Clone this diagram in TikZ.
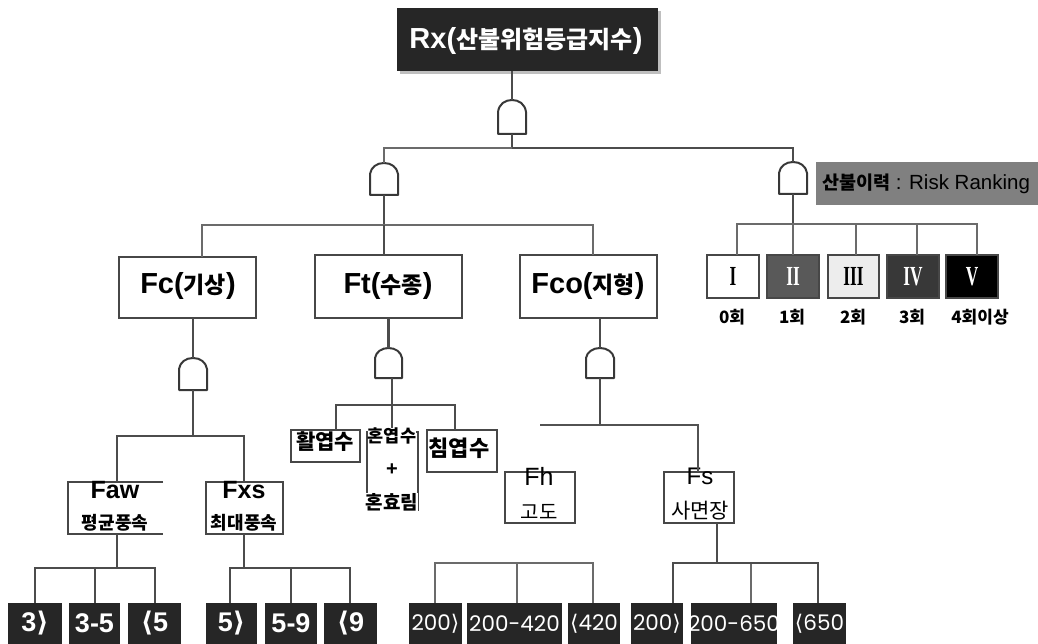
\documentclass[tikz,border=0pt]{standalone}
\usepackage{fontspec}
\usepackage{graphicx}
\setmainfont{Liberation Sans}
\newfontfamily\kr{Noto Sans CJK KR}
\newfontfamily\srf{Liberation Serif}
\newfontfamily\pop{Poppins}
\newfontfamily\dvfont{DejaVu Sans}
\usetikzlibrary{shadows,calc}
\newcommand{\fs}[1]{\fontsize{#1}{#1}\selectfont}
\newcommand{\bx}[7][]{\node[#2,#1,minimum width={#5-#3},minimum height={#6-#4}] (#7) at ({(#3+#5)/2},{(#4+#6)/2}) {};}
\newcommand{\gate}[5]{% name, left, right, top, bottom
  \node[gatebox,minimum width={#3-#2},minimum height={#5-#4}] (#1) at ({(#2+#3)/2},{(#4+#5)/2}) {};
  \draw[gateline] (#1.south west) -- ($(#1.west)+(0,-5)$) .. controls ($(#1.north west)+(1,4)$) and ($(#1.north)+(-7,0)$) .. (#1.north)
     .. controls ($(#1.north)+(7,0)$) and ($(#1.north east)+(-1,4)$) .. ($(#1.east)+(0,-5)$) -- (#1.south east) -- cycle;}
\newcommand{\lbk}{{\dvfont ⟨}}
\newcommand{\rbk}{{\dvfont ⟩}}
\newcommand{\romn}[1]{\scalebox{.72}[1.15]{#1}}
\tikzset{
  base/.style={inner sep=0pt,outer sep=0pt},
  gatebox/.style={base},
  gateline/.style={draw=black!78,line width=2pt,line join=round},
  conn/.style={draw=black!70,line width=2.2pt},
  thin conn/.style={draw=black!58,line width=1.8pt},
  plain/.style={base,draw=black!72,line width=1.8pt,fill=white},
  group/.style={base,draw=black!72,line width=2.4pt,fill=white},
  dark/.style={base,fill=black!85},
  ttl/.style={base,font=\fs{29}\bfseries},
  leafB/.style={base,text=white,font=\fs{27}\bfseries},
  leafP/.style={base,text=white,font=\pop\fs{21.5}},
  rom/.style={base,font=\srf\fs{24}\bfseries},
  cnt/.style={base,font=\kr\fs{17}\bfseries},
  sub/.style={base,font=\kr\fs{18}\bfseries},
  hd/.style={base,font=\fs{25}\bfseries},
}
\begin{document}
\begin{tikzpicture}[x=1pt,y=-1pt]
\useasboundingbox (0,0) rectangle (1038,644);

% top box
\bx[drop shadow={shadow xshift=3pt,shadow yshift=-3pt,fill=black!50}]{dark}{397}{8}{658}{71}{rx}
\node[base,text=white,font=\fs{29}\bfseries] (rxt) at (526,41) {Rx({\kr\fs{24}산불위험등급지수})};

% gates
\gate{g0}{498}{526}{100}{134}
\gate{g1}{370}{398}{163}{195}
\gate{g2}{779}{807}{162}{194}
\gate{gc}{179}{207}{358}{390}
\gate{gt}{375}{402}{348}{378}
\gate{gf}{586}{614}{348}{378}

% junctions
\coordinate (j0) at (512,148);
\coordinate (j1) at (384,225);
\coordinate (j2) at (793,224);
\coordinate (jc) at (193,436);
\coordinate (jt) at (392,405);
\coordinate (jf) at (600,425);
\coordinate (jfe) at (540,425);
\coordinate (jaw) at (117,568);
\coordinate (jxs) at (244,568);
\coordinate (jh) at (517,563);
\coordinate (js) at (717,563);

% boxes of the second row
\bx{group}{119}{257}{256}{318}{fc}
\bx{group}{315}{255}{462}{318}{ft}
\bx{group}{520}{255}{657}{318}{fco}
\node[ttl] (fct) at (188,286) {Fc({\kr\fs{23}기상})};
\node[ttl] (ftt) at (388,286) {Ft({\kr\fs{23}수종})};
\node[ttl] (fcot) at (588,286) {Fco({\kr\fs{23}지형})};

% tree species
\bx{plain}{291}{430}{360}{462}{hw}
\bx{plain}{367}{432}{418}{510}{mx}
\bx{plain}{427}{430}{497}{472}{cf}
\node[base,font=\kr\fs{21}\bfseries] (hwt) at (325,442) {활엽수};
\node[base,fill=white,font=\kr\fs{17.5}\bfseries] (mxa) at (392,436) {혼엽수};
\node[base,font=\fs{20}\bfseries] (mxb) at (392,470) {+};
\node[base,fill=white,font=\kr\fs{19}\bfseries] (mxc) at (392,502) {혼효림};
\node[base,font=\kr\fs{22}\bfseries] (cft) at (459,448) {침엽수};

% wind and terrain boxes
\node[base,minimum width=95,minimum height=52] (faw) at (115.5,508) {};
\draw[plain,fill=none] (faw.north east) -- (faw.north west) -- (faw.south west) -- (faw.south east);
\bx{plain}{206}{482}{283}{534}{fxs}
\bx{plain}{505}{472}{575}{523}{fh}
\bx{plain}{664}{472}{734}{523}{fs}
\node[hd] (fawt) at (115,490) {Faw};
\node[sub] (fawk) at (115,523) {평균풍속};
\node[hd] (fxst) at (244,490) {Fxs};
\node[sub] (fxsk) at (244,523) {최대풍속};
\node[base,font=\fs{25}] (fht) at (539,476) {Fh};
\node[base,font=\kr\fs{20}] (fhk) at (539,512) {고도};
\node[base,font=\fs{24}] (fst) at (700,476) {Fs};
\node[base,font=\kr\fs{21}] (fsk) at (700,511) {사면장};

% leaves
\foreach \nm/\a/\b/\t/\st in {
  l1/8/62/3\rbk/leafB, l2/69/120/3-5/leafB, l3/128/181/\lbk 5/leafB,
  l4/206/257/5\rbk/leafB, l5/265/317/5-9/leafB, l6/324/377/\lbk 9/leafB,
  l7/409/462/200\rbk/leafP, l8/467/562/200-420/leafP, l9/568/620/\lbk 420/leafP,
  l10/631/683/200\rbk/leafP, l11/691/777/200-650/leafP, l12/793/846/\lbk 650/leafP}{
  \node[dark,minimum width={\b-\a},minimum height=41] (\nm) at ({(\a+\b)/2},623.5) {};
  \node[\st] (\nm t) at (\nm) {\t};
}

% ranking
\node[base,fill=black!50,minimum width=222,minimum height=43] (lab) at (927,183.5) {};
\node[base,font=\fs{20.5}] (labt) at (926,183.5) {{\kr\bfseries\fs{18.5}산불이력} : Risk Ranking};
\bx{plain}{707}{255}{759}{298}{r1}
\bx[fill=black!65]{plain}{767}{255}{819}{298}{r2}
\bx[fill=black!7]{plain}{828}{255}{879}{298}{r3}
\bx[fill=black!78]{plain}{887}{255}{939}{298}{r4}
\bx[fill=black]{plain}{946}{255}{998}{298}{r5}
\node[rom] (r1t) at (r1) {\romn{I}};
\node[rom,text=white] (r2t) at (r2) {\romn{II}};
\node[rom] (r3t) at (r3) {\romn{III}};
\node[rom,text=white] (r4t) at (r4) {\romn{IV}};
\node[rom,text=white] (r5t) at (r5) {\romn{V}};
\node[cnt] (c1) at (732,317) {0회};
\node[cnt] (c2) at (792,317) {1회};
\node[cnt] (c3) at (853,317) {2회};
\node[cnt] (c4) at (912,317) {3회};
\node[cnt] (c5) at (980,317) {4회이상};

% connectors
\draw[conn] (rx.south -| g0.north) -- (g0.north);
\draw[conn] (g0.south) -- (j0);
\draw[thin conn] (j0) -| (g1.north);
\draw[conn] (j0) -| (g2.north);
\draw[conn] (g1.south) -- (j1);
\draw[thin conn] (j1) -| (fc.north -| 202,0);
\draw[thin conn] (j1) -| (fco.north -| 593,0);
\draw[conn] (j1) -- (j1 |- ft.north);
\draw[conn] (fc.south -| gc.north) -- (gc.north);
\draw[conn] (ft.south -| gt.north) -- (gt.north);
\draw[conn] (fco.south -| gf.north) -- (gf.north);
\draw[conn] (gc.south -| jc) -- (jc);
\draw[conn] (gt.south -| jt) -- (jt);
\draw[conn] (gf.south -| jf) -- (jf);
% weather
\draw[conn] (jc) -| (faw.north -| jaw);
\draw[conn] (jc) -| (fxs.north -| jxs);
\draw[conn] (faw.south -| jaw) -- (jaw);
\draw[conn] (fxs.south -| jxs) -- (jxs);
\foreach \n/\x in {l1/35,l2/95,l3/155}{\draw[conn] (jaw) -| (\n.north -| \x,0);}
\foreach \n/\x in {l4/230,l5/291,l6/350}{\draw[conn] (jxs) -| (\n.north -| \x,0);}
% species
\draw[conn] (jt) -| (hw.north -| 336,0);
\draw[conn] (jt) -- (mxa.north -| jt);
\draw[conn] (jt) -| (cf.north -| 455,0);
% terrain
\draw[line width=2.6pt,draw=black!68] (jfe) -- (jf) -| (fs.north -| 698,0);
\draw[thin conn] (jh) -| (l7.north -| 435,0);
\draw[thin conn] (jh) -- (l8.north -| jh);
\draw[thin conn] (jh) -| (l9.north -| 593,0);
\draw[conn] (fs.south -| js) -- (js);
\draw[conn] (js) -| (l10.north -| 673,0);
\draw[thin conn] (js) -| (l11.north -| 751,0);
\draw[conn] (js) -| (l12.north -| 818,0);
% ranking stems
\draw[conn] (g2.south) -- (j2);
\foreach \n/\x in {r1/737,r2/793,r3/856,r4/917,r5/977}{\draw[thin conn] (j2) -| (\n.north -| \x,0);}
\end{tikzpicture}
\end{document}
